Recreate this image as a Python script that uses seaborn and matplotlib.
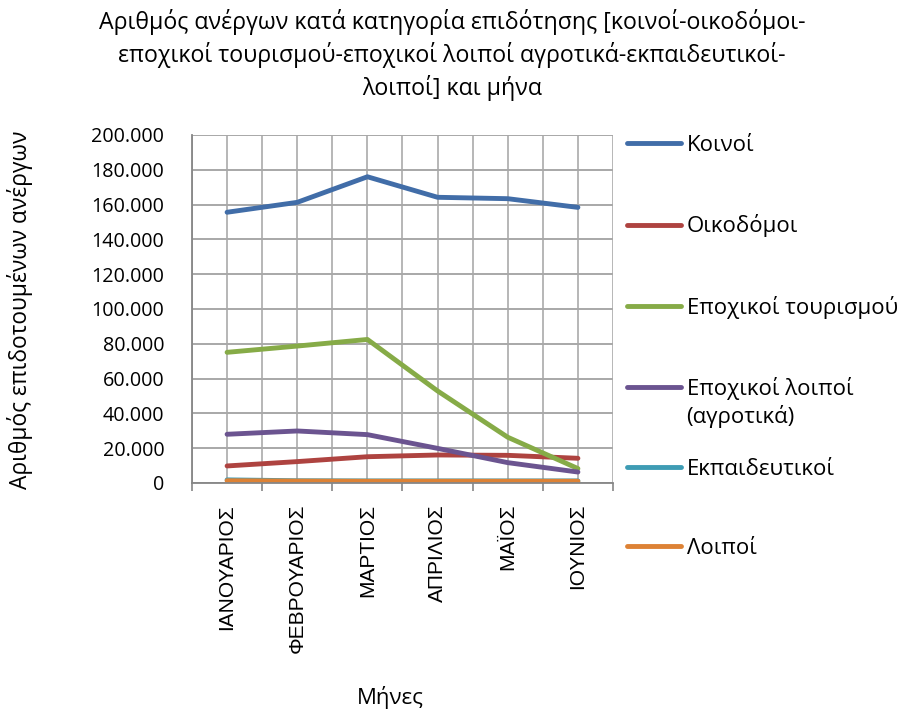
import matplotlib
matplotlib.use("Agg")
import matplotlib.pyplot as plt
from matplotlib.lines import Line2D
from matplotlib.ticker import FuncFormatter, MultipleLocator
import seaborn as sns
import pandas as pd

# Monthly count of subsidised unemployed, by benefit category
months = ["ΙΑΝΟΥΑΡΙΟΣ", "ΦΕΒΡΟΥΑΡΙΟΣ", "ΜΑΡΤΙΟΣ", "ΑΠΡΙΛΙΟΣ", "ΜΑΪΟΣ", "ΙΟΥΝΙΟΣ"]
koinoi = [155600, 161300, 176000, 164200, 163400, 158400]
oikodomoi = [9800, 12300, 15100, 16100, 15900, 14200]
tourismou = [75100, 78700, 82500, 52900, 26300, 8300]
loipoi_agrotika = [28000, 29900, 27800, 19900, 11700, 6300]
ekpaideutikoi = [1800, 1300, 1200, 1200, 1200, 1200]
loipoi = [1300, 1100, 1000, 1000, 1000, 1000]

series_names = ["Κοινοί", "Οικοδόμοι", "Εποχικοί τουρισμού",
                "Εποχικοί λοιποί", "Εκπαιδευτικοί", "Λοιποί"]
series_values = [koinoi, oikodomoi, tourismou, loipoi_agrotika, ekpaideutikoi, loipoi]
colors = ["#416DA8", "#AE4340", "#86AB47", "#6B5490", "#3E9CB4", "#DD8235"]

rows = []
for name, vals in zip(series_names, series_values):
    for i, v in enumerate(vals):
        rows.append({"pos": i, "month": months[i], "series": name, "value": v})
df = pd.DataFrame(rows)

sns.set_theme(style="white")
plt.rcParams["font.family"] = ["Open Sans", "DejaVu Sans"]
plt.rcParams["text.color"] = "black"
plt.rcParams["axes.labelcolor"] = "black"
plt.rcParams["xtick.color"] = "black"
plt.rcParams["ytick.color"] = "black"

fig = plt.figure(figsize=(9.03, 7.16), dpi=100)
ax = fig.add_axes([192 / 903, 1 - 483 / 716, 421 / 903, 348 / 716])

sns.lineplot(data=df, x="pos", y="value", hue="series", hue_order=series_names,
             palette=colors, linewidth=3.5, ax=ax, legend=False, sort=False)
for ln in ax.lines:
    ln.set_solid_capstyle("round")
    ln.set_solid_joinstyle("round")

ax.set_xlim(-0.5, 5.5)
ax.set_ylim(0, 200000)
ax.yaxis.set_major_locator(MultipleLocator(20000))
ax.yaxis.set_major_formatter(FuncFormatter(
    lambda v, p: "0" if v == 0 else f"{int(v):,}".replace(",", ".")))

# vertical grid at category centres and boundaries
ax.set_xticks([i - 0.5 for i in range(len(months) + 1)], minor=False)
ax.set_xticks(list(range(len(months))), minor=True)
ax.set_xticklabels([])
ax.set_xticklabels(months, minor=True, rotation=90, va="top", ha="center",
                   family=["Liberation Sans", "DejaVu Sans"], fontsize=15)
ax.grid(True, which="both", axis="x", color="#B7B7B7", linewidth=1.4)
ax.grid(True, which="major", axis="y", color="#A8A8A8", linewidth=1.4)
ax.set_axisbelow(True)
ax.tick_params(axis="x", which="minor", length=0, pad=15)
ax.tick_params(axis="x", which="major", length=6, width=1.2, color="#868686", direction="out")
ax.tick_params(axis="y", length=6, width=1.2, color="#868686", direction="out",
               labelsize=14.2, pad=14)
ax.tick_params(axis="x", which="both", bottom=True)
for side in ["top", "right"]:
    ax.spines[side].set_visible(False)
for side in ["left", "bottom"]:
    ax.spines[side].set_color("#868686")
    ax.spines[side].set_linewidth(1.3)

ax.set_xlabel("Μήνες", fontsize=16)
ax.xaxis.set_label_coords((390 - 192) / 421, -(686 - 483) / 348)
ax.set_ylabel("Αριθμός επιδοτουμένων ανέργων", fontsize=16.4)
ax.yaxis.set_label_coords(-(192 - 33) / 421, (483 - 310) / 348)

fig.suptitle("Αριθμός ανέργων κατά κατηγορία επιδότησης [κοινοί-οικοδόμοι-\n"
             "εποχικοί τουρισμού-εποχικοί λοιποί αγροτικά-εκπαιδευτικοί-\n"
             "λοιποί] και μήνα", x=452 / 903, y=1 - 9 / 716, fontsize=16.7,
             va="top", linespacing=1.35)

handles = [Line2D([], [], color=c, linewidth=3.5, solid_capstyle="round") for c in colors]
leg = fig.legend(handles, series_names, loc="upper left",
                 bbox_to_anchor=(618 / 903, 1 - 126 / 716), frameon=False,
                 fontsize=16, handlelength=2.45, handletextpad=0.25,
                 labelspacing=2.63, borderaxespad=0)
fig.text(686 / 903, 1 - 416 / 716, "(αγροτικά)", fontsize=16, va="center", ha="left")

fig.savefig("out.png", dpi=100)
